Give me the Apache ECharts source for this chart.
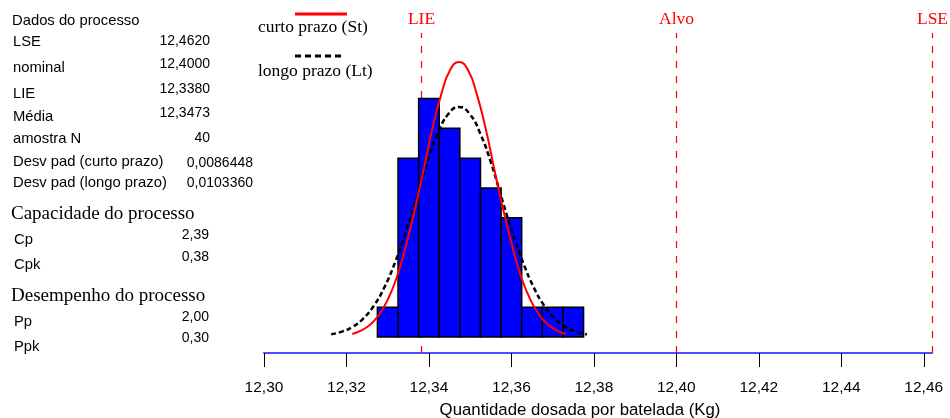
<!DOCTYPE html>
<html>
<head>
<meta charset="utf-8">
<script src="https://cdn.jsdelivr.net/npm/echarts@6/dist/echarts.min.js"></script>
<style>
  html, body { margin: 0; padding: 0; background: #fff; }
  #chart { width: 950px; height: 418px; }
</style>
</head>
<body>
<div id="chart"></div>
<script>
// Histogram bins (left edges, width) and counts of the 40 batches
const binEdges = [12.3275, 12.3325, 12.3375, 12.3425, 12.3475, 12.3525, 12.3575, 12.3625, 12.3675, 12.3725, 12.3775];
const binCounts = [1, 6, 8, 7, 6, 5, 4, 1, 1, 1];

// Short-term fitted curve (St), in counts per bin
const curtoX = [12.3214, 12.3235, 12.3257, 12.3278, 12.3300, 12.3322, 12.3343, 12.3365, 12.3387, 12.3408, 12.3430, 12.3451, 12.3473,
                12.3495, 12.3516, 12.3538, 12.3559, 12.3581, 12.3603, 12.3624, 12.3646, 12.3668, 12.3689, 12.3711, 12.3732];
const curtoY = [0.10, 0.21, 0.41, 0.73, 1.25, 2.00, 3.00, 4.23, 5.60, 6.97, 8.15, 8.95, 9.23,
                8.95, 8.15, 6.97, 5.60, 4.23, 3.00, 2.00, 1.25, 0.73, 0.41, 0.21, 0.10];

// Long-term fitted curve (Lt), in counts per bin
const longoX = [12.3163, 12.3189, 12.3215, 12.3240, 12.3266, 12.3292, 12.3318, 12.3344, 12.3370, 12.3395, 12.3421, 12.3447, 12.3473,
                12.3499, 12.3525, 12.3551, 12.3576, 12.3602, 12.3628, 12.3654, 12.3680, 12.3706, 12.3731, 12.3757, 12.3783];
const longoY = [0.09, 0.18, 0.34, 0.61, 1.04, 1.67, 2.51, 3.53, 4.68, 5.83, 6.81, 7.48, 7.72,
                7.48, 6.81, 5.83, 4.68, 3.53, 2.51, 1.67, 1.04, 0.61, 0.34, 0.18, 0.09];

// Specification limits and target
const specNames = ['LIE', 'Alvo', 'LSE'];
const specValues = [12.338, 12.400, 12.462];

// X axis ticks
const tickValues = [12.30, 12.32, 12.34, 12.36, 12.38, 12.40, 12.42, 12.44, 12.46];

// Process summary panel
const dadosTitulo = 'Dados do processo';
const dadosLabels = ['LSE', 'nominal', 'LIE', 'Média', 'amostra N', 'Desv pad (curto prazo)', 'Desv pad (longo prazo)'];
const dadosValues = ['12,4620', '12,4000', '12,3380', '12,3473', '40', '0,0086448', '0,0103360'];
const capTitulo = 'Capacidade do processo';
const capLabels = ['Cp', 'Cpk'];
const capValues = ['2,39', '0,38'];
const desTitulo = 'Desempenho do processo';
const desLabels = ['Pp', 'Ppk'];
const desValues = ['2,00', '0,30'];

const legendNames = ['curto prazo (St)', 'longo prazo (Lt)'];

const SANS = '"Liberation Sans", Arial, sans-serif';
const SERIF = '"Liberation Serif", "Times New Roman", serif';
const LABEL_FONT = '14.8px ' + SANS;
const VALUE_FONT = '14px ' + SANS;
const HEAD_FONT = '19px ' + SERIF;

const Y_MIN = -0.537, Y_MAX = 10.2;

const chart = echarts.init(document.getElementById('chart'));

function txt(text, x, y, opts) {
  return {
    type: 'text', silent: true,
    style: Object.assign({
      text: text, x: x, y: y,
      fill: '#000',
      font: LABEL_FONT,
      textAlign: 'left', textVerticalAlign: 'middle'
    }, opts || {})
  };
}

const graphics = [];
// Summary panel layout
const dadosLabelY = [42, 68, 94, 117, 139, 162, 183];
const dadosValueY = [41, 64, 89, 113, 138, 163, 183];
graphics.push(txt(dadosTitulo, 12, 21));
dadosLabels.forEach((l, i) => {
  graphics.push(txt(l, 13, dadosLabelY[i]));
  graphics.push(txt(dadosValues[i], i >= 5 ? 253 : 210, dadosValueY[i], { textAlign: 'right', font: VALUE_FONT }));
});
graphics.push(txt(capTitulo, 11, 214, { font: HEAD_FONT }));
const capLabelY = [240, 265], capValueY = [235, 257];
capLabels.forEach((l, i) => {
  graphics.push(txt(l, 14, capLabelY[i]));
  graphics.push(txt(capValues[i], 209, capValueY[i], { textAlign: 'right', font: VALUE_FONT }));
});
graphics.push(txt(desTitulo, 11, 296, { font: HEAD_FONT }));
const desLabelY = [322, 347], desValueY = [317, 338];
desLabels.forEach((l, i) => {
  graphics.push(txt(l, 14, desLabelY[i]));
  graphics.push(txt(desValues[i], 209, desValueY[i], { textAlign: 'right', font: VALUE_FONT }));
});

// Legend: line sample above its caption
graphics.push({ type: 'line', silent: true, shape: { x1: 295, y1: 14, x2: 347, y2: 14 },
  style: { stroke: '#ff0000', lineWidth: 3 } });
graphics.push(txt(legendNames[0], 258, 27, { font: '17.5px ' + SERIF }));
graphics.push({ type: 'line', silent: true, shape: { x1: 295, y1: 56, x2: 345, y2: 56 },
  style: { stroke: '#000', lineWidth: 3, lineDash: [6, 4] } });
graphics.push(txt(legendNames[1], 258, 71, { font: '17.5px ' + SERIF }));

const histData = binCounts.map((c, i) => [binEdges[i], binEdges[i + 1], c]);
const specData = specValues.map((v, i) => [v, specNames[i]]);
const fmt = v => v.toFixed(2).replace('.', ',');

chart.setOption({
  animation: false,
  backgroundColor: '#fff',
  grid: { left: 264, right: 18, top: 33, bottom: 65, outerBoundsMode: 'none', containLabel: false },
  xAxis: {
    type: 'value', min: 12.30, max: 12.462, interval: 0.02,
    splitLine: { show: false },
    axisLine: { show: true, onZero: false, lineStyle: { color: '#4d4dff', width: 2 } },
    axisTick: { show: true, length: 14, lineStyle: { color: '#000', width: 1 }, customValues: tickValues },
    axisLabel: { customValues: tickValues, formatter: fmt, color: '#000', fontSize: 15.5, fontFamily: SANS, margin: 27 },
    axisPointer: { show: false },
    name: 'Quantidade dosada por batelada (Kg)',
    nameLocation: 'middle', nameGap: 49,
    nameTextStyle: { color: '#000', fontSize: 16.8, fontFamily: SANS, padding: [0, 36, 0, 0] }
  },
  yAxis: {
    type: 'value', min: Y_MIN, max: Y_MAX,
    show: false, splitLine: { show: false }
  },
  graphic: graphics,
  series: [
    {
      // specification limits and target, drawn behind the bars
      type: 'custom',
      name: 'limites',
      data: specData,
      encode: { x: 0 },
      silent: true,
      z: 1,
      renderItem: function (params, api) {
        const bottom = api.coord([api.value(0), Y_MIN]);
        const top = api.coord([api.value(0), Y_MAX]);
        const x = Math.round(bottom[0]) + 0.5;
        return {
          type: 'group',
          children: [
            {
              type: 'line',
              shape: { x1: x, y1: bottom[1], x2: x, y2: top[1] },
              style: { stroke: '#ff0000', lineWidth: 1.2, lineDash: [7, 8] }
            },
            {
              type: 'text',
              style: {
                text: specData[params.dataIndex][1],
                x: x, y: top[1] - 14,
                fill: '#ff0000', font: '17.5px ' + SERIF,
                textAlign: 'center', textVerticalAlign: 'middle'
              }
            }
          ]
        };
      }
    },
    {
      type: 'custom',
      name: 'hist',
      data: histData,
      encode: { x: [0, 1], y: 2 },
      renderItem: function (params, api) {
        const p0 = api.coord([api.value(0), 0]);
        const p1 = api.coord([api.value(1), api.value(2)]);
        return {
          type: 'rect',
          shape: { x: p0[0], y: p1[1], width: p1[0] - p0[0], height: p0[1] - p1[1] },
          style: { fill: '#0000ff', stroke: '#000', lineWidth: 1.5 }
        };
      },
      z: 2
    },
    {
      type: 'line',
      name: legendNames[1],
      data: longoX.map((x, i) => [x, longoY[i]]),
      smooth: true, showSymbol: false,
      lineStyle: { color: '#000', width: 2.5, type: [5, 3] },
      z: 3
    },
    {
      type: 'line',
      name: legendNames[0],
      data: curtoX.map((x, i) => [x, curtoY[i]]),
      smooth: true, showSymbol: false,
      lineStyle: { color: '#ff0000', width: 2 },
      z: 4
    }
  ]
});
</script>
</body>
</html>
